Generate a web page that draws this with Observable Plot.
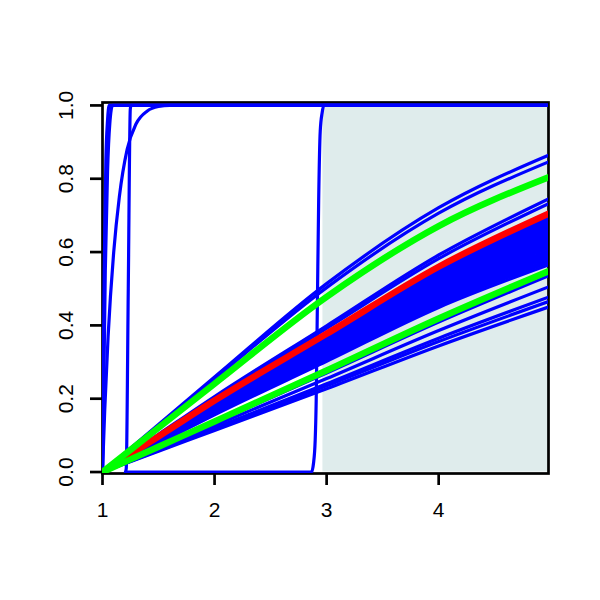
<!DOCTYPE html>
<html><head><meta charset="utf-8">
<script src="https://cdn.jsdelivr.net/npm/d3@7"></script>
<script src="https://cdn.jsdelivr.net/npm/@observablehq/plot@0.6"></script>
<style>body{margin:0;background:#fff}#chart{width:600px;height:600px}</style>
</head><body><div id="chart"></div>
<script>
// Axis ticks
const xTicks = [1, 2, 3, 4];
const yTicks = [0, 0.2, 0.4, 0.6, 0.8, 1.0];
const yTickLabels = ["0.0", "0.2", "0.4", "0.6", "0.8", "1.0"];

// Shaded band (x range)
const shadeStart = 2.967;
const shadeEnd = 4.98;

// Sample x positions for the smooth fan of curves
const xGrid = [1, 1.5, 2, 3, 4, 4.98];

// Blue fan curves: y values at xGrid
const blueBundle = [
  [0, 0.130, 0.259, 0.514, 0.721, 0.864],
  [0, 0.127, 0.254, 0.503, 0.706, 0.846],
  [0, 0.103, 0.206, 0.399, 0.592, 0.745],
  [0, 0.101, 0.202, 0.392, 0.582, 0.732],
  [0, 0.096, 0.192, 0.372, 0.553, 0.695],
  [0, 0.095, 0.190, 0.369, 0.548, 0.689],
  [0, 0.094, 0.188, 0.365, 0.542, 0.682],
  [0, 0.093, 0.187, 0.362, 0.537, 0.676],
  [0, 0.092, 0.185, 0.358, 0.532, 0.669],
  [0, 0.091, 0.183, 0.355, 0.527, 0.663],
  [0, 0.091, 0.181, 0.351, 0.522, 0.656],
  [0, 0.090, 0.179, 0.348, 0.517, 0.650],
  [0, 0.089, 0.177, 0.344, 0.511, 0.643],
  [0, 0.088, 0.176, 0.341, 0.506, 0.637],
  [0, 0.087, 0.174, 0.337, 0.501, 0.630],
  [0, 0.086, 0.172, 0.334, 0.496, 0.624],
  [0, 0.085, 0.170, 0.330, 0.491, 0.617],
  [0, 0.084, 0.169, 0.327, 0.486, 0.611],
  [0, 0.083, 0.167, 0.323, 0.480, 0.604],
  [0, 0.083, 0.165, 0.320, 0.475, 0.598],
  [0, 0.082, 0.163, 0.316, 0.470, 0.591],
  [0, 0.081, 0.161, 0.313, 0.465, 0.585],
  [0, 0.080, 0.160, 0.309, 0.460, 0.578],
  [0, 0.079, 0.158, 0.306, 0.455, 0.572],
  [0, 0.078, 0.156, 0.302, 0.449, 0.565],
  [0, 0.067, 0.135, 0.270, 0.409, 0.535],
  [0, 0.064, 0.127, 0.255, 0.386, 0.505],
  [0, 0.060, 0.120, 0.241, 0.365, 0.477],
  [0, 0.059, 0.117, 0.235, 0.356, 0.465],
  [0, 0.057, 0.113, 0.227, 0.344, 0.450]
];

// Red (thick) curve at xGrid
const redCurve = [0, 0.097, 0.195, 0.377, 0.560, 0.705];

// Green (thick) curves at xGrid
const greenCurves = [
  [0, 0.121, 0.241, 0.478, 0.671, 0.804],
  [0, 0.069, 0.138, 0.277, 0.419, 0.548]
];

// Steep / step-like blue curves, each with its own x and y readings
const stepX = [
  [1, 1.005, 1.015, 1.03, 1.045, 1.06, 4.98],
  [1, 1.01, 1.025, 1.045, 1.065, 1.09, 4.98],
  [1, 1.02, 1.05, 1.1, 1.15, 1.22, 1.3, 1.4, 1.5, 1.6, 4.98],
  [1.205, 1.212, 1.23, 1.248, 1.255, 4.98],
  [1.205, 2.865, 2.883, 2.898, 2.907, 2.918, 2.929, 2.943, 2.96, 2.975, 4.98]
];
const stepY = [
  [0, 0.2, 0.55, 0.85, 0.96, 1, 1],
  [0, 0.2, 0.55, 0.82, 0.95, 1, 1],
  [0, 0.17, 0.37, 0.6, 0.75, 0.88, 0.95, 0.985, 0.997, 1, 1],
  [0, 0.01, 0.5, 0.99, 1, 1],
  [0, 0, 0.024, 0.087, 0.195, 0.47, 0.74, 0.93, 0.98, 1, 1]
];

const rows = (ys, xs, id) => ys.map((y, i) => ({id, x: xs[i], y}));
const blueRows = blueBundle.flatMap((ys, k) => rows(ys, xGrid, "b" + k));
const stepRows = stepY.flatMap((ys, k) => rows(ys, stepX[k], "s" + k));
const redRows = rows(redCurve, xGrid, "r");
const greenRows = greenCurves.flatMap((ys, k) => rows(ys, xGrid, "g" + k));

const chart = Plot.plot({
  width: 600,
  height: 600,
  marginLeft: 102,
  marginRight: 52,
  marginTop: 102,
  marginBottom: 127,
  x: {domain: [1, 4.98]},
  y: {domain: [-0.004, 1.008]},
  style: {fontFamily: "'Liberation Sans', Arial, sans-serif", fontSize: "21px", background: "white", color: "black"},
  marks: [
    Plot.rect([{x1: shadeStart, x2: shadeEnd, y1: 0, y2: 1}], {x1: "x1", x2: "x2", y1: "y1", y2: "y2", fill: "#dfecec"}),
    Plot.frame({stroke: "black", strokeWidth: 2.7}),
    Plot.axisX({ticks: xTicks, tickSize: 12, strokeWidth: 2.7, tickFormat: () => "", label: null}),
    Plot.axisY({ticks: yTicks, tickSize: 12, strokeWidth: 2.7, tickFormat: () => "", label: null}),
    Plot.text(xTicks, {x: d => d, text: d => String(d), frameAnchor: "bottom", dy: 37, fontSize: 21, lineAnchor: "middle", fill: "black"}),
    Plot.text(yTicks, {y: d => d, text: (d, i) => yTickLabels[i], frameAnchor: "left", dx: -36, rotate: -90, fontSize: 21, textAnchor: "middle", lineAnchor: "middle", fill: "black"}),
    Plot.line(blueRows, {x: "x", y: "y", z: "id", stroke: "#0000ff", strokeWidth: 3.2, curve: "monotone-x", clip: true}),
    Plot.line(stepRows, {x: "x", y: "y", z: "id", stroke: "#0000ff", strokeWidth: 3.2, curve: "monotone-x", clip: true}),
    Plot.line(redRows, {x: "x", y: "y", z: "id", stroke: "#ff0000", strokeWidth: 6.5, curve: "monotone-x", clip: true}),
    Plot.line(greenRows, {x: "x", y: "y", z: "id", stroke: "#00ff00", strokeWidth: 6.5, curve: "monotone-x", clip: true})
  ]
});
document.getElementById("chart").appendChild(chart);
</script>
</body></html>
